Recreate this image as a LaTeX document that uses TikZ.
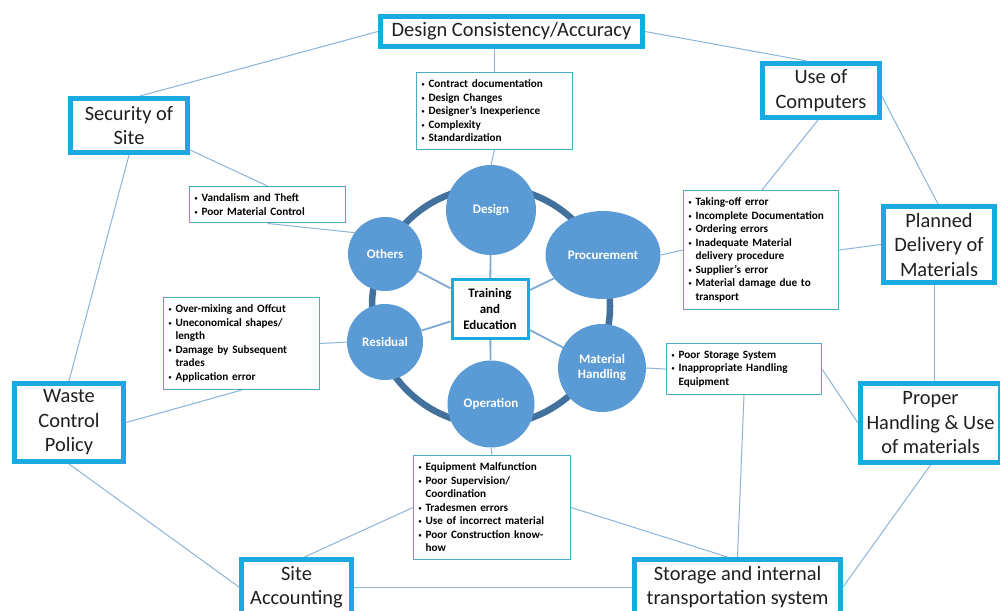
\documentclass[tikz,border=0pt]{standalone}
\usepackage{fontspec}
\setmainfont{Carlito}
\usetikzlibrary{shapes.geometric}
\definecolor{bigc}{HTML}{1BA9E1}
\definecolor{circc}{HTML}{5B9BD5}
\definecolor{ringc}{HTML}{41719C}
\definecolor{linec}{HTML}{8DB4D8}
\definecolor{spokec}{HTML}{7DA9D3}
\definecolor{listc}{HTML}{4BACC6}
\newcommand\bul{\makebox[7pt][l]{\raisebox{1pt}{\fontsize{6}{6}\selectfont\textbullet}}}
\newcommand\cnt{\hspace*{7pt}}
\tikzset{
  bigbox/.style={draw=bigc, line width=5pt, fill=white, align=center, inner sep=0pt,
    font=\fontsize{20.4}{24.5}\selectfont, text=black!88},
  listbox/.style={draw=listc, line width=1pt, fill=white, align=left, anchor=north west,
    inner xsep=5pt, inner ysep=7.5pt, font=\fontsize{11.2}{13.5}\selectfont\bfseries, text=black},
  cnode/.style={fill=circc, text=white, inner sep=0pt, align=center,
    font=\fontsize{13}{15}\selectfont\bfseries},
  conn/.style={draw=linec, line width=1pt},
  spoke/.style={draw=spokec, line width=1.8pt},
}
\begin{document}
\begin{tikzpicture}[x=1pt,y=-1pt]
\clip (0,0) rectangle (1000,610);
\fill[white] (0,0) rectangle (1000,610);
% ring
\draw[ringc, line width=6.5pt] (491,306) circle[radius=119];
% circles
\node[cnode, circle, minimum size=90pt] (design) at (491,210) {Design};
\node[cnode, ellipse, minimum width=115pt, minimum height=88pt] (proc) at (603,255) {Procurement};
\node[cnode, circle, minimum size=88pt] (mh) at (602,368) {Material\\Handling};
\node[cnode, circle, minimum size=87pt] (op) at (491,404) {Operation};
\node[cnode, circle, minimum size=76pt] (res) at (385,342) {Residual};
\node[cnode, circle, minimum size=74pt] (oth) at (385,254) {Others};
% centre box
\node[draw=bigc, line width=3pt, fill=white, minimum width=76pt, minimum height=59pt,
  align=center, inner sep=0pt, font=\fontsize{13}{16}\selectfont\bfseries] (tr) at (490,309)
  {Training\\and\\Education};
% big boxes
\node[bigbox, minimum width=262pt, minimum height=30pt] (dcons) at (511.5,31.5) {Design Consistency/Accuracy};
\node[bigbox, minimum width=117pt, minimum height=54pt] (comp) at (821,90.5) {Use of\\Computers};
\node[bigbox, minimum width=117pt, minimum height=54pt] (sec) at (129,125.5) {Security of\\Site};
\node[bigbox, minimum width=111pt, minimum height=76pt] (plan) at (939,244.5) {Planned\\Delivery of\\Materials};
\node[bigbox, minimum width=140pt, minimum height=79pt] (proper) at (930.5,423) {Proper\\Handling \& Use\\of materials};
\node[bigbox, minimum width=109pt, minimum height=78pt] (waste) at (69,422.5) {Waste\\Control\\Policy};
\node[bigbox, minimum width=110pt, minimum height=55pt] (site) at (296.5,587) {Site\\Accounting};
\node[bigbox, minimum width=206pt, minimum height=55pt] (stor) at (737.5,587) {Storage and internal\\transportation system};
% list boxes
\node[listbox, text width=146pt] (dlist) at (416,72) {\bul Contract documentation\\\bul Design Changes\\\bul Designer's Inexperience\\\bul Complexity\\\bul Standardization};
\node[listbox, text width=145pt] (clist) at (683,190) {\bul Taking-off error\\\bul Incomplete Documentation\\\bul Ordering errors\\\bul Inadequate Material\\\cnt delivery procedure\\\bul Supplier's error\\\bul Material damage due to\\\cnt transport};
\node[listbox, text width=146pt] (slist) at (189,186) {\bul Vandalism and Theft\\\bul Poor Material Control};
\node[listbox, text width=146pt] (rlist) at (163,297) {\bul Over-mixing and Offcut\\\bul Uneconomical shapes/\\\cnt length\\\bul Damage by Subsequent\\\cnt trades\\\bul Application error};
\node[listbox, text width=145pt] (mhlist) at (666,343) {\bul Poor Storage System\\\bul Inappropriate Handling\\\cnt Equipment};
\node[listbox, text width=147pt] (oplist) at (413,455) {\bul Equipment Malfunction\\\bul Poor Supervision/\\\cnt Coordination\\\bul Tradesmen errors\\\bul Use of incorrect material\\\bul Poor Construction know-\\\cnt how};
% spokes
\draw[spoke] (tr) -- (design);
\draw[spoke] (tr) -- (proc);
\draw[spoke] (tr) -- (mh);
\draw[spoke] (tr) -- (op);
\draw[spoke] (tr) -- (res);
\draw[spoke] (tr) -- (oth);
% connectors
\draw[conn] (dlist.north |- dcons.south) -- (dlist.north);
\draw[conn] (dlist.south) -- (design.north);
\draw[conn] ([xshift=11pt]sec.north) -- (dcons.west);
\draw[conn] (dcons.east) -- ([xshift=-14pt]comp.north);
\draw[conn] ([xshift=-3pt]comp.south) -- ([xshift=1pt]clist.north);
\draw[conn] ([yshift=-6pt]comp.east) -- ([xshift=-1pt]plan.north);
\draw[conn] (clist.east) -- (plan.west);
\draw[conn] (clist.west) -- (proc.east);
\draw[conn] ([xshift=-5pt]plan.south) -- ([xshift=-5pt]plan.south |- proper.north);
\draw[conn] (proper.south) -- (stor.east);
\draw[conn] (mhlist.east) -- (proper.west);
\draw[conn] (mh.east) -- (mhlist.west);
\draw[conn] (mhlist.south) -- (stor.north);
\draw[conn] (oplist.east) -- ([xshift=-10pt]stor.north);
\draw[conn] (oplist.west) -- ([xshift=8pt]site.north);
\draw[conn] (op.south) -- (oplist.north);
\draw[conn] (site.east) -- (stor.west);
\draw[conn] (waste.south) -- (site.west);
\draw[conn] (waste.north) -- (sec.south);
\draw[conn] (rlist.east) -- (res.west);
\draw[conn] (rlist.south) -- (waste.east);
\draw[conn] ([yshift=5pt]sec.south east) -- (slist.north);
\draw[conn] (slist.south) -- (oth.145);
\end{tikzpicture}
\end{document}
